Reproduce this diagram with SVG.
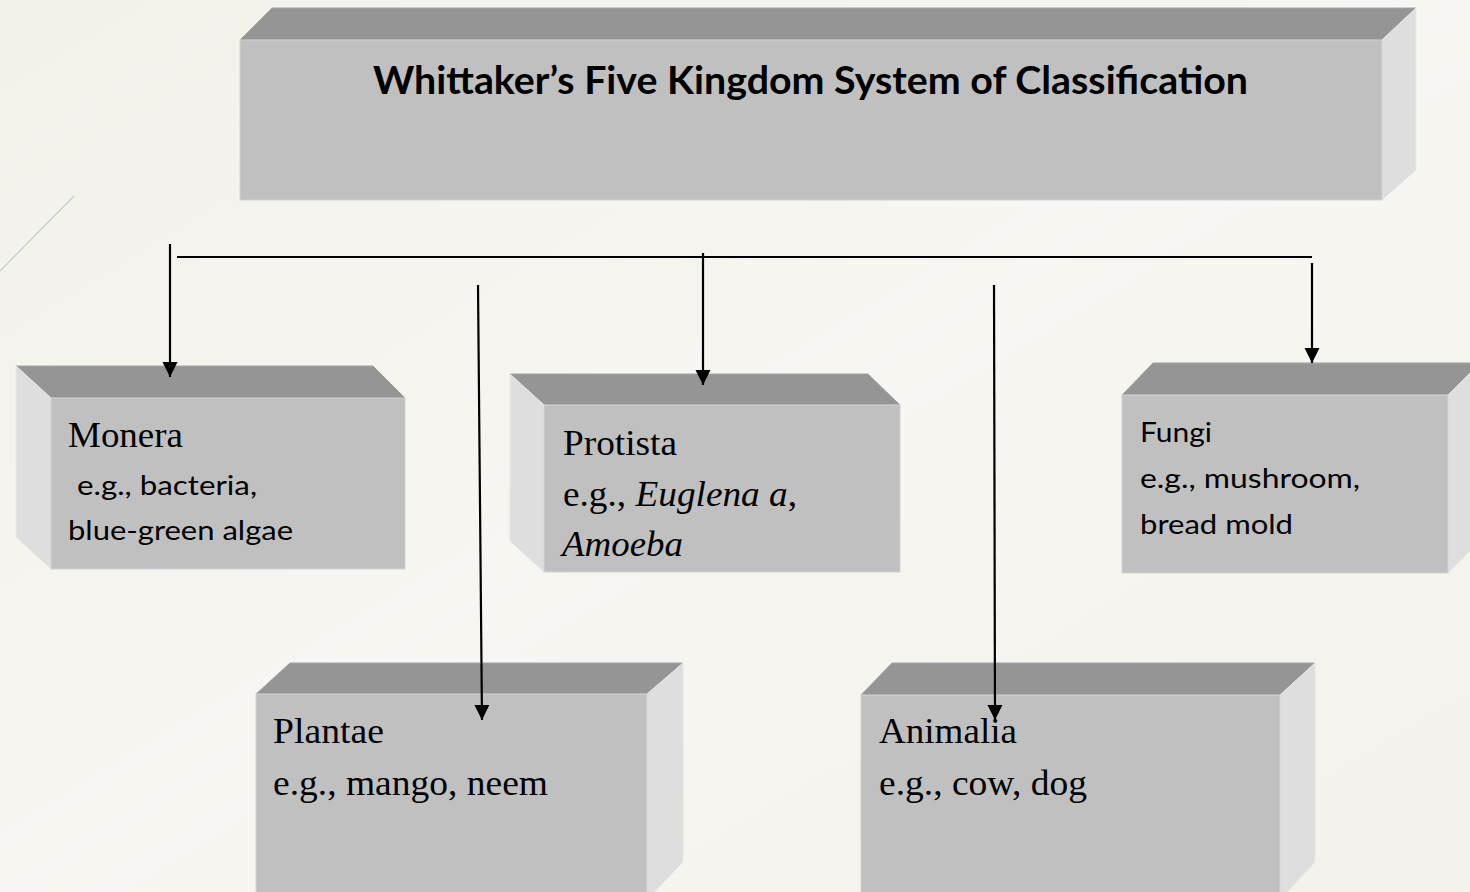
<svg xmlns="http://www.w3.org/2000/svg" width="1470" height="892" viewBox="0 0 1470 892">
  <defs>
    <linearGradient id="bg" x1="0" y1="0" x2="1" y2="1">
      <stop offset="0" stop-color="#f2f1ea"/>
      <stop offset="0.5" stop-color="#f7f6f2"/>
      <stop offset="1" stop-color="#f3f2ec"/>
    </linearGradient>
    <marker id="arr" viewBox="0 0 10 10" refX="10" refY="5" markerWidth="15" markerHeight="16" markerUnits="userSpaceOnUse" orient="auto">
      <path d="M0,0 L10,5 L0,10 z" fill="#000"/>
    </marker>
  </defs>
  <style>
    .top { fill: #959595; stroke: #a3a3a3; stroke-width: 1; }
    .front { fill: #c0c0c0; stroke: #d2d2d2; stroke-width: 1; }
    .side { fill: #dedede; stroke: #e8e8e8; stroke-width: 1; }
    .serif { font-family: "Liberation Serif", "Times New Roman", serif; font-size: 35px; fill: #000; }
    .sans { font-family: "Lato", "Open Sans", sans-serif; font-size: 27px; fill: #000; }
    .title { font-family: "Lato", "Open Sans", sans-serif; font-size: 39px; font-weight: bold; fill: #000; }
    .conn { stroke: #000; stroke-width: 2.2; fill: none; }
  </style>
  <rect x="0" y="0" width="1470" height="892" fill="url(#bg)"/>
  <line x1="0" y1="271" x2="74" y2="196" stroke="#c5ccd3" stroke-width="1.2"/>

  <g id="title">
    <polygon class="top" points="272,8 1416,8 1382,40 240,40"/>
    <polygon class="side" points="1382,40 1416,8 1416,170 1382,200"/>
    <rect class="front" x="240" y="40" width="1142" height="160"/>
    <text class="title" x="373" y="94" textLength="875" lengthAdjust="spacingAndGlyphs">Whittaker’s Five Kingdom System of Classification</text>
  </g>

  <g id="monera">
    <polygon class="top" points="16,366 373,366 405,398 51,398"/>
    <polygon class="side" points="16,366 51,398 51,569 16,537"/>
    <rect class="front" x="51" y="398" width="354" height="171"/>
    <text class="serif" x="68" y="447" textLength="115" lengthAdjust="spacingAndGlyphs">Monera</text>
    <text class="sans" x="77" y="495" textLength="180" lengthAdjust="spacingAndGlyphs">e.g., bacteria,</text>
    <text class="sans" x="68" y="540" textLength="225" lengthAdjust="spacingAndGlyphs">blue-green algae</text>
  </g>

  <g id="protista">
    <polygon class="top" points="510,374 868,374 900,405 544,405"/>
    <polygon class="side" points="510,374 544,405 544,572 510,541"/>
    <rect class="front" x="544" y="405" width="356" height="167"/>
    <text class="serif" x="563" y="455" textLength="114" lengthAdjust="spacingAndGlyphs">Protista</text>
    <text class="serif" x="563" y="506" textLength="234" lengthAdjust="spacingAndGlyphs">e.g., <tspan font-style="italic">Euglena a</tspan>,</text>
    <text class="serif" x="562" y="556" font-style="italic" textLength="121" lengthAdjust="spacingAndGlyphs">Amoeba</text>
  </g>

  <g id="fungi">
    <polygon class="top" points="1153,363 1480,363 1448,395 1122,395"/>
    <polygon class="side" points="1448,395 1480,363 1480,541 1448,573"/>
    <rect class="front" x="1122" y="395" width="326" height="178"/>
    <text class="sans" x="1140" y="442" textLength="72" lengthAdjust="spacingAndGlyphs">Fungi</text>
    <text class="sans" x="1140" y="488" textLength="220" lengthAdjust="spacingAndGlyphs">e.g., mushroom,</text>
    <text class="sans" x="1140" y="534" textLength="153" lengthAdjust="spacingAndGlyphs">bread mold</text>
  </g>

  <g id="plantae">
    <polygon class="top" points="290,663 683,663 647,694 256,694"/>
    <polygon class="side" points="647,694 683,663 683,862 647,900"/>
    <rect class="front" x="256" y="694" width="391" height="210"/>
    <text class="serif" x="273" y="743" textLength="111" lengthAdjust="spacingAndGlyphs">Plantae</text>
    <text class="serif" x="273" y="795" textLength="275" lengthAdjust="spacingAndGlyphs">e.g., mango, neem</text>
  </g>

  <g id="animalia">
    <polygon class="top" points="892,663 1315,663 1280,695 861,695"/>
    <polygon class="side" points="1280,695 1315,663 1315,862 1280,900"/>
    <rect class="front" x="861" y="695" width="419" height="210"/>
    <text class="serif" x="879" y="743" textLength="138" lengthAdjust="spacingAndGlyphs">Animalia</text>
    <text class="serif" x="879" y="795" textLength="208" lengthAdjust="spacingAndGlyphs">e.g., cow, dog</text>
  </g>

  <g id="connectors">
    <line class="conn" x1="177" y1="257" x2="1312" y2="257"/>
    <line class="conn" x1="170" y1="244" x2="170" y2="377" marker-end="url(#arr)"/>
    <line class="conn" x1="478" y1="285" x2="482" y2="720" marker-end="url(#arr)"/>
    <line class="conn" x1="703" y1="253" x2="703" y2="385" marker-end="url(#arr)"/>
    <line class="conn" x1="994" y1="285" x2="995" y2="720" marker-end="url(#arr)"/>
    <line class="conn" x1="1312" y1="263" x2="1312" y2="363" marker-end="url(#arr)"/>
  </g>
</svg>
